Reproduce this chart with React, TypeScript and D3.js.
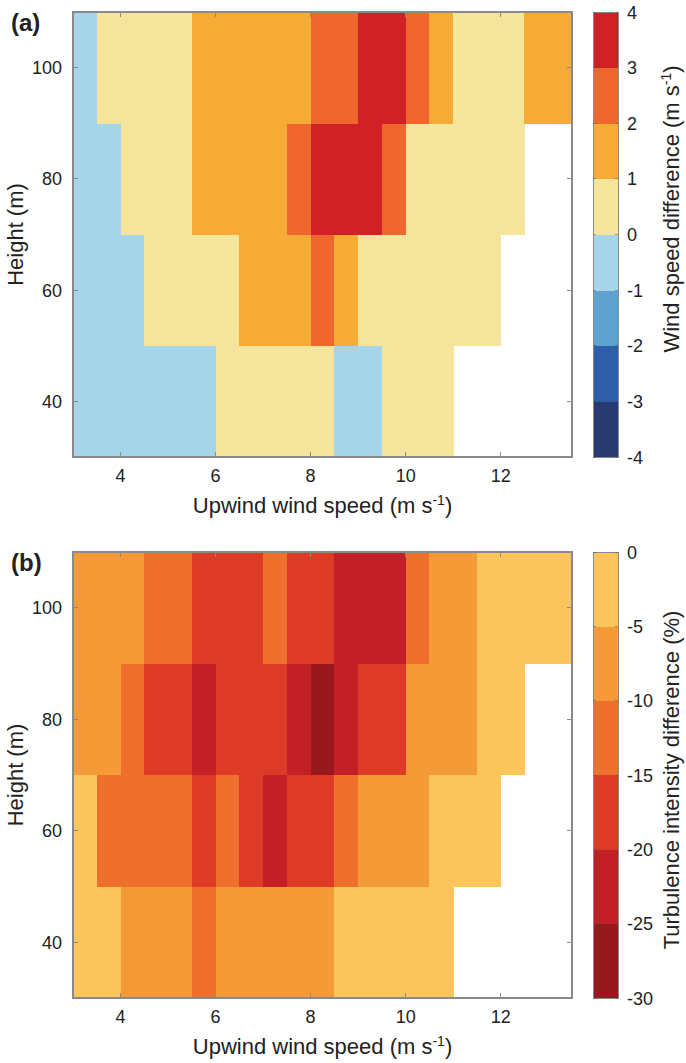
import React from "react";
import * as d3 from "d3";

// ---------- data ----------
// wind-speed bin centres (0.5 m/s bins from 3 to 13.5)
const speeds = [3.25, 3.75, 4.25, 4.75, 5.25, 5.75, 6.25, 6.75, 7.25, 7.75, 8.25, 8.75, 9.25, 9.75, 10.25, 10.75, 11.25, 11.75, 12.25, 12.75, 13.25];
// height bin centres (20 m bins from 30 to 110)
const heights = [40, 60, 80, 100];

// (a) wind speed difference (m s-1), rows by height
const windDiff40 = [-0.5, -0.4, -0.5, -0.6, -0.4, -0.5, 0.5, 0.6, 0.7, 0.6, 0.5, -0.4, -0.3, 0.5, 0.6, 0.4, null, null, null, null, null];
const windDiff60 = [-0.5, -0.4, -0.3, 0.4, 0.6, 0.7, 0.8, 1.4, 1.6, 1.8, 2.3, 1.7, 0.8, 0.7, 0.6, 0.5, 0.5, 0.4, null, null, null];
const windDiff80 = [-0.5, -0.4, 0.5, 0.7, 0.8, 1.3, 1.5, 1.6, 1.8, 2.4, 3.3, 3.6, 3.4, 2.5, 0.9, 0.8, 0.7, 0.6, 0.5, null, null];
const windDiff100 = [-0.3, 0.5, 0.6, 0.7, 0.8, 1.2, 1.4, 1.5, 1.7, 1.8, 2.4, 2.7, 3.3, 3.5, 2.6, 1.6, 0.8, 0.7, 0.6, 1.4, 1.5];
const windDiff = [windDiff40, windDiff60, windDiff80, windDiff100];

// (b) turbulence intensity difference (%), rows by height
const tiDiff40 = [-3, -4, -6, -8, -9, -11, -7, -8, -8, -9, -8, -4, -3, -3, -2, -2, null, null, null, null, null];
const tiDiff60 = [-4, -11, -12, -13, -14, -16, -12, -17, -21, -18, -19, -13, -9, -8, -7, -4, -3, -2, null, null, null];
const tiDiff80 = [-8, -9, -12, -16, -18, -22, -17, -18, -19, -23, -27, -22, -18, -17, -9, -8, -7, -4, -3, null, null];
const tiDiff100 = [-7, -8, -9, -12, -13, -17, -18, -19, -13, -17, -19, -22, -23, -24, -12, -9, -7, -4, -3, -2, -2];
const tiDiff = [tiDiff40, tiDiff60, tiDiff80, tiDiff100];

// colour levels
const windBreaks = [-3, -2, -1, 0, 1, 2, 3];
const windColors = ["#283b70", "#2e5ea9", "#5fa2d0", "#a6d5ea", "#f5e59c", "#f7ab37", "#ef672f", "#d02127"];
const windTicks = [4, 3, 2, 1, 0, -1, -2, -3, -4];

const tiBreaks = [-25, -20, -15, -10, -5];
const tiColors = ["#97191d", "#c21f26", "#de3b27", "#ef702d", "#f49b37", "#fbc55c"];
const tiTicks = [0, -5, -10, -15, -20, -25, -30];

const xTicks = [4, 6, 8, 10, 12];
const yTicks = [40, 60, 80, 100];

// ---------- layout ----------
const W = 686;
const H = 1063;
const FONT = "'Liberation Sans', Arial, Helvetica, sans-serif";
const left = 73;
const right = 572;
const cbX0 = 593;
const cbX1 = 618;
const AXIS = "#8a8a8a";

type PanelProps = {
  top: number;
  bottom: number;
  letter: string;
  values: (number | null)[][];
  breaks: number[];
  colors: string[];
  cbTicks: number[];
  cbLabel: React.ReactNode;
  cbLabelY: number;
};

function Panel({ top, bottom, letter, values, breaks, colors, cbTicks, cbLabel, cbLabelY }: PanelProps) {
  const x = d3.scaleLinear().domain([3, 13.5]).range([left, right]);
  const y = d3.scaleLinear().domain([30, 110]).range([bottom, top]);
  const color = d3.scaleThreshold<number, string>().domain(breaks).range(colors);
  const cbMin = d3.min(cbTicks) as number;
  const cbMax = d3.max(cbTicks) as number;
  const cb = d3.scaleLinear().domain([cbMin, cbMax]).range([bottom, top]);
  const step = (cbMax - cbMin) / colors.length;
  const levels = d3.range(colors.length).map((i) => cbMin + i * step);

  const cells: React.ReactNode[] = [];
  heights.forEach((h, r) => {
    speeds.forEach((s, c) => {
      const v = values[r][c];
      if (v === null || v === undefined) return;
      const x0 = x(s - 0.25);
      const x1 = x(s + 0.25);
      const y0 = y(h + 10);
      const y1 = y(h - 10);
      cells.push(
        <rect key={`${r}-${c}`} x={x0} y={y0} width={x1 - x0 + 0.4} height={y1 - y0 + 0.4} fill={color(v)} />
      );
    });
  });

  const tl = 5;
  return (
    <g>
      {cells}
      {/* frame */}
      <rect x={left} y={top} width={right - left} height={bottom - top} fill="none" stroke={AXIS} strokeWidth={1.2} />
      {xTicks.map((t) => (
        <g key={`xt${t}`}>
          <line x1={x(t)} x2={x(t)} y1={bottom} y2={bottom - tl} stroke={AXIS} />
          <line x1={x(t)} x2={x(t)} y1={top} y2={top + tl} stroke={AXIS} />
          <text x={x(t)} y={bottom + 25} textAnchor="middle" fontSize={18} fill="#222">
            {t}
          </text>
        </g>
      ))}
      {yTicks.map((t) => (
        <g key={`yt${t}`}>
          <line x1={left} x2={left + tl} y1={y(t)} y2={y(t)} stroke={AXIS} />
          <line x1={right} x2={right - tl} y1={y(t)} y2={y(t)} stroke={AXIS} />
          <text x={62} y={y(t) + 6.5} textAnchor="end" fontSize={18} fill="#222">
            {t}
          </text>
        </g>
      ))}
      {/* axis labels */}
      <text x={(left + right) / 2} y={bottom + 56} textAnchor="middle" fontSize={22} fill="#222">
        Upwind wind speed (m s
        <tspan dy={-8} fontSize={14}>-1</tspan>
        <tspan dy={8}>)</tspan>
      </text>
      <text transform={`translate(23,${(top + bottom) / 2}) rotate(-90)`} textAnchor="middle" fontSize={22} fill="#222">
        Height (m)
      </text>
      <text x={11} y={top + 19} fontSize={24} fontWeight="bold" fill="#222">
        {letter}
      </text>
      {/* colorbar */}
      {levels.map((lv, i) => (
        <rect key={`cb${i}`} x={cbX0} y={cb(lv + step)} width={cbX1 - cbX0} height={cb(lv) - cb(lv + step) + 0.4} fill={colors[i]} />
      ))}
      <rect x={cbX0} y={top} width={cbX1 - cbX0} height={bottom - top} fill="none" stroke={AXIS} strokeWidth={1} />
      {cbTicks.map((t) => (
        <g key={`cbt${t}`}>
          <line x1={cbX0} x2={cbX0 + 3} y1={cb(t)} y2={cb(t)} stroke="#555" strokeOpacity={0.5} />
          <line x1={cbX1} x2={cbX1 - 3} y1={cb(t)} y2={cb(t)} stroke="#555" strokeOpacity={0.5} />
          <text x={627} y={cb(t) + 6.5} fontSize={18} fill="#222">
            {t}
          </text>
        </g>
      ))}
      <text transform={`translate(679,${cbLabelY}) rotate(-90)`} textAnchor="middle" fontSize={22} fill="#222">
        {cbLabel}
      </text>
    </g>
  );
}

export default function App() {
  return (
    <svg
      width={W}
      height={H}
      viewBox={`0 0 ${W} ${H}`}
      style={{ position: "absolute", left: 0, top: 0, background: "#fff" }}
      fontFamily={FONT}
      shapeRendering="crispEdges"
    >
      <rect x={0} y={0} width={W} height={H} fill="#fff" />
      <Panel
        top={12}
        bottom={457}
        letter="(a)"
        values={windDiff}
        breaks={windBreaks}
        colors={windColors}
        cbTicks={windTicks}
        cbLabelY={209}
        cbLabel={
          <>
            Wind speed difference (m s
            <tspan dy={-8} fontSize={14}>-1</tspan>
            <tspan dy={8}>)</tspan>
          </>
        }
      />
      <Panel
        top={552}
        bottom={998}
        letter="(b)"
        values={tiDiff}
        breaks={tiBreaks}
        colors={tiColors}
        cbTicks={tiTicks}
        cbLabelY={780}
        cbLabel={<>Turbulence intensity difference (%)</>}
      />
    </svg>
  );
}
